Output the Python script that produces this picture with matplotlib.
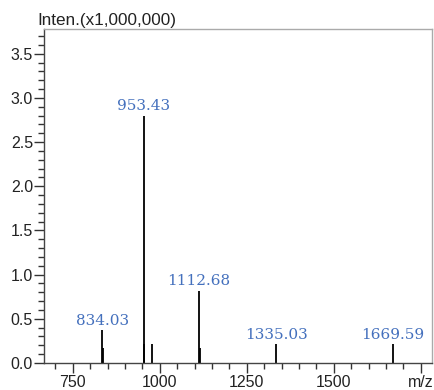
import matplotlib
matplotlib.use("Agg")
import matplotlib.pyplot as plt
from matplotlib.ticker import MultipleLocator

mz = [834.03, 835.6, 953.43, 955.0, 976.0, 1112.68, 1114.3, 1335.03, 1669.59]
intensity = [0.37, 0.17, 2.80, 0.22, 0.21, 0.82, 0.17, 0.21, 0.21]
label_mz = [834.03, 953.43, 1112.68, 1335.03, 1669.59]
label_int = [0.37, 2.80, 0.82, 0.21, 0.21]
label_txt = ["834.03", "953.43", "1112.68", "1335.03", "1669.59"]
xticks = [750, 1000, 1250, 1500, 1750]
xticklabels = ["750", "1000", "1250", "1500", "m/z"]
yticks = [0.0, 0.5, 1.0, 1.5, 2.0, 2.5, 3.0, 3.5]

plt.rcParams['font.family'] = ['Liberation Sans', 'DejaVu Sans']
fig = plt.figure(figsize=(4.35, 3.9), dpi=100)
ax = fig.add_axes([44/435, 1 - 363/390, (432-44)/435, (363-29)/390])

ax.vlines(mz, 0, intensity, colors='black', linewidth=1.3)
for x, y, t in zip(label_mz, label_int, label_txt):
    ax.annotate(t, (x, y), xytext=(0, 2), textcoords='offset points',
                ha='center', va='bottom', fontsize=11, color='#4470bd',
                family=['DejaVu Serif'])

ax.set_xlim(667, 1782)
ax.set_ylim(0, 3.78)
ax.set_xticks(xticks)
ax.set_xticklabels(xticklabels)
ax.set_yticks(yticks)
ax.set_yticklabels([f"{v:.1f}" for v in yticks])
ax.xaxis.set_minor_locator(MultipleLocator(50))
ax.yaxis.set_minor_locator(MultipleLocator(0.1))
ax.tick_params(axis='both', which='major', direction='out', length=7, width=1,
               labelsize=11.5, color='#333333', labelcolor='#222222')
ax.tick_params(axis='both', which='minor', direction='out', length=4, width=1, color='#333333')
ax.tick_params(axis='x', pad=1.5)
ax.tick_params(axis='y', pad=1)
for s in ['top', 'right']:
    ax.spines[s].set_color('#aaaaaa')
    ax.spines[s].set_linewidth(1)
for s in ['left', 'bottom']:
    ax.spines[s].set_color('#444444')
    ax.spines[s].set_linewidth(1)

fig.text(37/435, 1 - 25/390, "Inten.(x1,000,000)", fontsize=12.3, color='#222222',
         ha='left', va='baseline')

fig.savefig("out.png", dpi=100)
